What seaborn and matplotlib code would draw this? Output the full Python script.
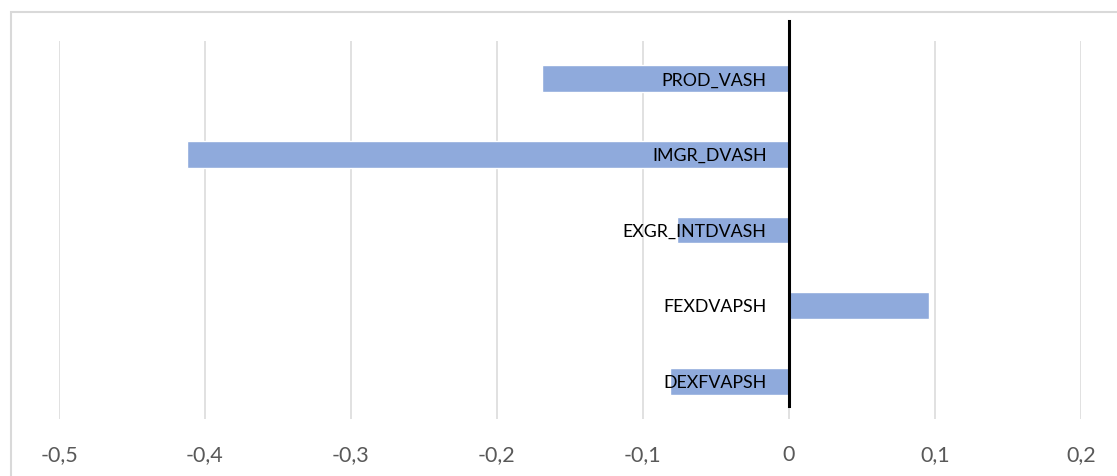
import matplotlib
matplotlib.use("Agg")
import matplotlib.pyplot as plt
import seaborn as sns
import pandas as pd
from matplotlib.patches import Rectangle
from matplotlib.ticker import FuncFormatter, MultipleLocator

# Data
indicators = ['PROD_VASH', 'IMGR_DVASH', 'EXGR_INTDVASH', 'FEXDVAPSH', 'DEXFVAPSH']
values = [-0.169, -0.4125, -0.0765, 0.096, -0.0815]
x_ticks = [-0.5, -0.4, -0.3, -0.2, -0.1, 0, 0.1, 0.2]

df = pd.DataFrame({'Indicator': indicators, 'Value': values})

sns.set_style('white')
plt.rcParams['font.family'] = ['Lato', 'DejaVu Sans']

fig = plt.figure(figsize=(11.17, 4.76), dpi=100)
ax = fig.add_axes([59 / 1117, 57 / 476, (1080.7 - 59) / 1117, 378 / 476])

sns.barplot(data=df, x='Value', y='Indicator', orient='h', color='#8FAADC',
            width=0.353, saturation=1, ax=ax)

ax.set_xlim(-0.5, 0.2)
ax.set_ylim(4.5, -0.5)
ax.set_xticks(x_ticks)
ax.xaxis.set_major_formatter(
    FuncFormatter(lambda v, p: ('%g' % round(v, 1)).replace('.', ',')))
ax.grid(axis='x', color='#D9D9D9', linewidth=1.1)
ax.set_axisbelow(False)
ax.xaxis.set_zorder(0.5)   # grid under the bars
ax.yaxis.set_zorder(3)     # category labels over the bars

for s in ['top', 'right', 'bottom']:
    ax.spines[s].set_visible(False)
ax.spines['left'].set_position(('data', 0))
ax.spines['left'].set_color('black')
ax.spines['left'].set_linewidth(2.2)
ax.spines['left'].set_bounds(-0.765, 4.33)
ax.spines['left'].set_zorder(5)

ax.tick_params(axis='y', length=0, pad=16, labelsize=12.8, labelcolor='black')
ax.tick_params(axis='x', length=0, pad=19, labelsize=15.5, labelcolor='#595959')
ax.set_xlabel('')
ax.set_ylabel('')

# light outer chart frame
fig.patches.append(Rectangle((10.5 / 1117, -0.1), 1.2, 1 - 11.5 / 476 + 0.1,
                             transform=fig.transFigure, fill=False,
                             edgecolor='#D9D9D9', linewidth=1.5))

fig.savefig('out.png', dpi=100, facecolor='white')
